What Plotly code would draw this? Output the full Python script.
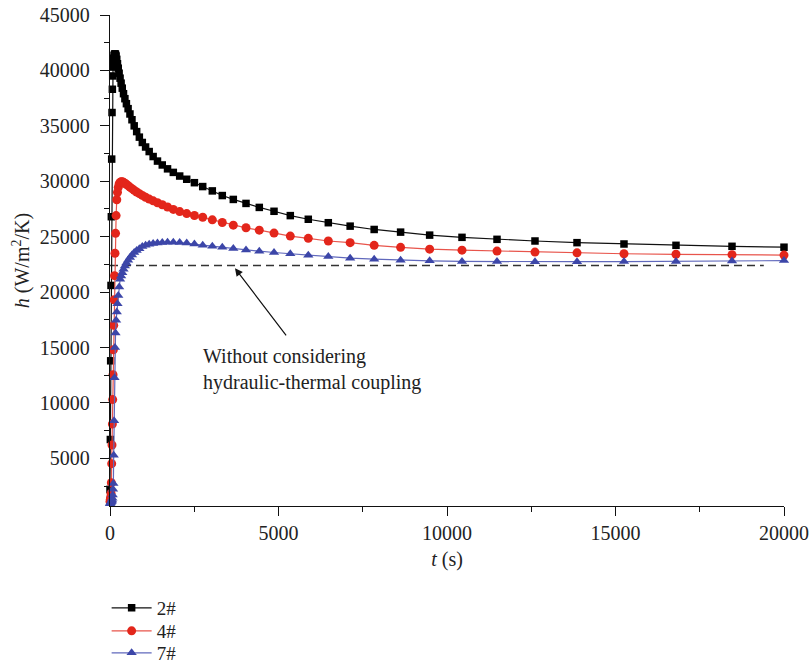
import plotly.graph_objects as go

# Time steps (s) shared by all monitoring points
t_s = [0, 10, 20, 30, 40, 50, 60, 70, 80, 90, 100, 110, 121, 134, 148, 164, 181, 201, 222,
       245, 271, 299, 330, 364, 401, 442, 487, 537, 592, 652, 718, 791, 871, 959, 1056,
       1163, 1280, 1409, 1551, 1707, 1879, 2068, 2276, 2505, 2751, 3036, 3332, 3659,
       4036, 4430, 4867, 5350, 5884, 6478, 7126, 7839, 8623, 9485, 10445, 11484, 12611,
       13858, 15252, 16795, 18457, 20000]

# Heat transfer coefficient h (W/m2/K) at each monitoring point
h_2 = [2200, 6700, 13800, 20600, 26800, 32000, 36200, 38300, 39500, 40300, 40800, 41100,
       41350, 41450, 41500, 41450, 41300, 41000, 40600, 40200, 39750, 39300, 38850, 38400,
       37900, 37450, 37000, 36550, 36070, 35550, 35000, 34480, 33980, 33500, 33090, 32680,
       32230, 31820, 31470, 31120, 30800, 30470, 30180, 29870, 29520, 29130, 28710, 28360,
       28000, 27640, 27290, 26900, 26570, 26260, 25950, 25650, 25410, 25140, 24940, 24760,
       24610, 24460, 24340, 24220, 24130, 24050]

h_4 = [1100, 1300, 1500, 1840, 2800, 4520, 6200, 8090, 10300, 12550, 14800, 17000,
       19300, 21480, 23500, 25300, 26900, 28330, 29000, 29450, 29750, 29900, 29950, 29950,
       29900, 29820, 29720, 29600, 29470, 29330, 29180, 29030, 28880, 28720, 28560, 28390,
       28230, 28060, 27880, 27680, 27460, 27260, 27080, 26910, 26750, 26520, 26280, 26040,
       25800, 25590, 25320, 25050, 24850, 24610, 24460, 24220, 24040, 23870, 23780, 23700,
       23610, 23540, 23460, 23410, 23380, 23340]

h_7 = [900, 950, 1000, 1050, 1100, 1150, 1250, 1400, 1700, 2200, 2730, 5270,
       8390, 12260, 15000, 16300, 17460, 18210, 18950, 19700, 20450, 21150, 21450, 21750,
       22050, 22350, 22620, 22880, 23120, 23350, 23580, 23760, 23920, 24110, 24220, 24320,
       24390, 24440, 24470, 24490, 24490, 24470, 24430, 24340, 24230, 24130, 24040, 23930,
       23800, 23690, 23570, 23450, 23330, 23210, 23060, 22970, 22880, 22820, 22770, 22750,
       22740, 22740, 22750, 22770, 22800, 22840]

# Reference value without hydraulic-thermal coupling
h_uncoupled = 22400
t_uncoupled = [0, 19400]

x_ticks = [0, 5000, 10000, 15000, 20000]
x_ticktext = ["0", "5000", "10000", "15000", "20000"]
y_ticks = [5000, 10000, 15000, 20000, 25000, 30000, 35000, 40000, 45000]
y_ticktext = ["5000", "10000", "15000", "20000", "25000", "30000", "35000", "40000", "45000"]

FONT = "Liberation Serif"
TEXT_COLOR = "#222222"

fig = go.Figure()

fig.add_trace(go.Scatter(
    x=t_uncoupled, y=[h_uncoupled] * len(t_uncoupled), mode="lines",
    line=dict(color="#333333", width=1.3, dash="8px,5px"),
    showlegend=False, hoverinfo="skip"))

series = [
    ("2#", h_2, "#000000", "#111111", "square", 7.5, "legend"),
    ("4#", h_4, "#E3261B", "#E8544B", "circle", 9, "legend2"),
    ("7#", h_7, "#3C46A8", "#6068BC", "triangle-up", 9, "legend3"),
]
for name, vals, mcol, lcol, sym, size, leg in series:
    fig.add_trace(go.Scatter(
        x=t_s, y=vals, name=name, mode="lines+markers",
        line=dict(color=lcol, width=1.2),
        marker=dict(symbol=sym, size=size, color=mcol, line=dict(width=0)),
        cliponaxis=False, legend=leg))

# Label with an arrow pointing at the uncoupled reference line
fig.add_annotation(
    x=3709, y=22150, xref="x", yref="y",
    text="Without considering<br>hydraulic-thermal coupling",
    showarrow=True, ax=77, ay=101, axref="pixel", ayref="pixel",
    arrowhead=2, arrowsize=1.3, arrowwidth=1.2, arrowcolor="#111111",
    startstandoff=10, align="left",
    font=dict(family=FONT, size=20, color=TEXT_COLOR))

axis_common = dict(
    showline=True, linecolor="#111111", linewidth=1.3, mirror=False,
    showgrid=False, zeroline=False, ticks="outside", ticklen=9, tickwidth=1.2,
    tickcolor="#111111", tickfont=dict(family=FONT, size=20, color=TEXT_COLOR),
)

fig.update_xaxes(
    range=[0, 20000], tickmode="array", tickvals=x_ticks, ticktext=x_ticktext,
    minor=dict(ticks="outside", ticklen=5, tickwidth=1.1, tickcolor="#111111",
               dtick=2500, tick0=0),
    title=dict(text="<i>t</i> (s)", font=dict(family=FONT, size=20, color=TEXT_COLOR),
               standoff=8),
    **axis_common)
fig.update_yaxes(
    range=[700, 45000], tickmode="array", tickvals=y_ticks, ticktext=y_ticktext,
    minor=dict(ticks="outside", ticklen=5, tickwidth=1.1, tickcolor="#111111",
               dtick=2500, tick0=0),
    ticklabelstandoff=6,
    title=dict(text="<i>h</i> (W/m<sup>2</sup>/K)",
               font=dict(family=FONT, size=20, color=TEXT_COLOR), standoff=4),
    **axis_common)

legend_common = dict(
    x=-0.005, xanchor="left", yanchor="middle",
    font=dict(family=FONT, size=19, color=TEXT_COLOR),
    bgcolor="rgba(0,0,0,0)", itemwidth=40)

fig.update_layout(
    width=811, height=663,
    margin=dict(l=110, r=27, t=15, b=157, autoexpand=False),
    paper_bgcolor="white", plot_bgcolor="white",
    showlegend=True,
    legend=dict(y=-0.2077, **legend_common),
    legend2=dict(y=-0.2546, **legend_common),
    legend3=dict(y=-0.2994, **legend_common),
)

fig.write_html("out.html")
